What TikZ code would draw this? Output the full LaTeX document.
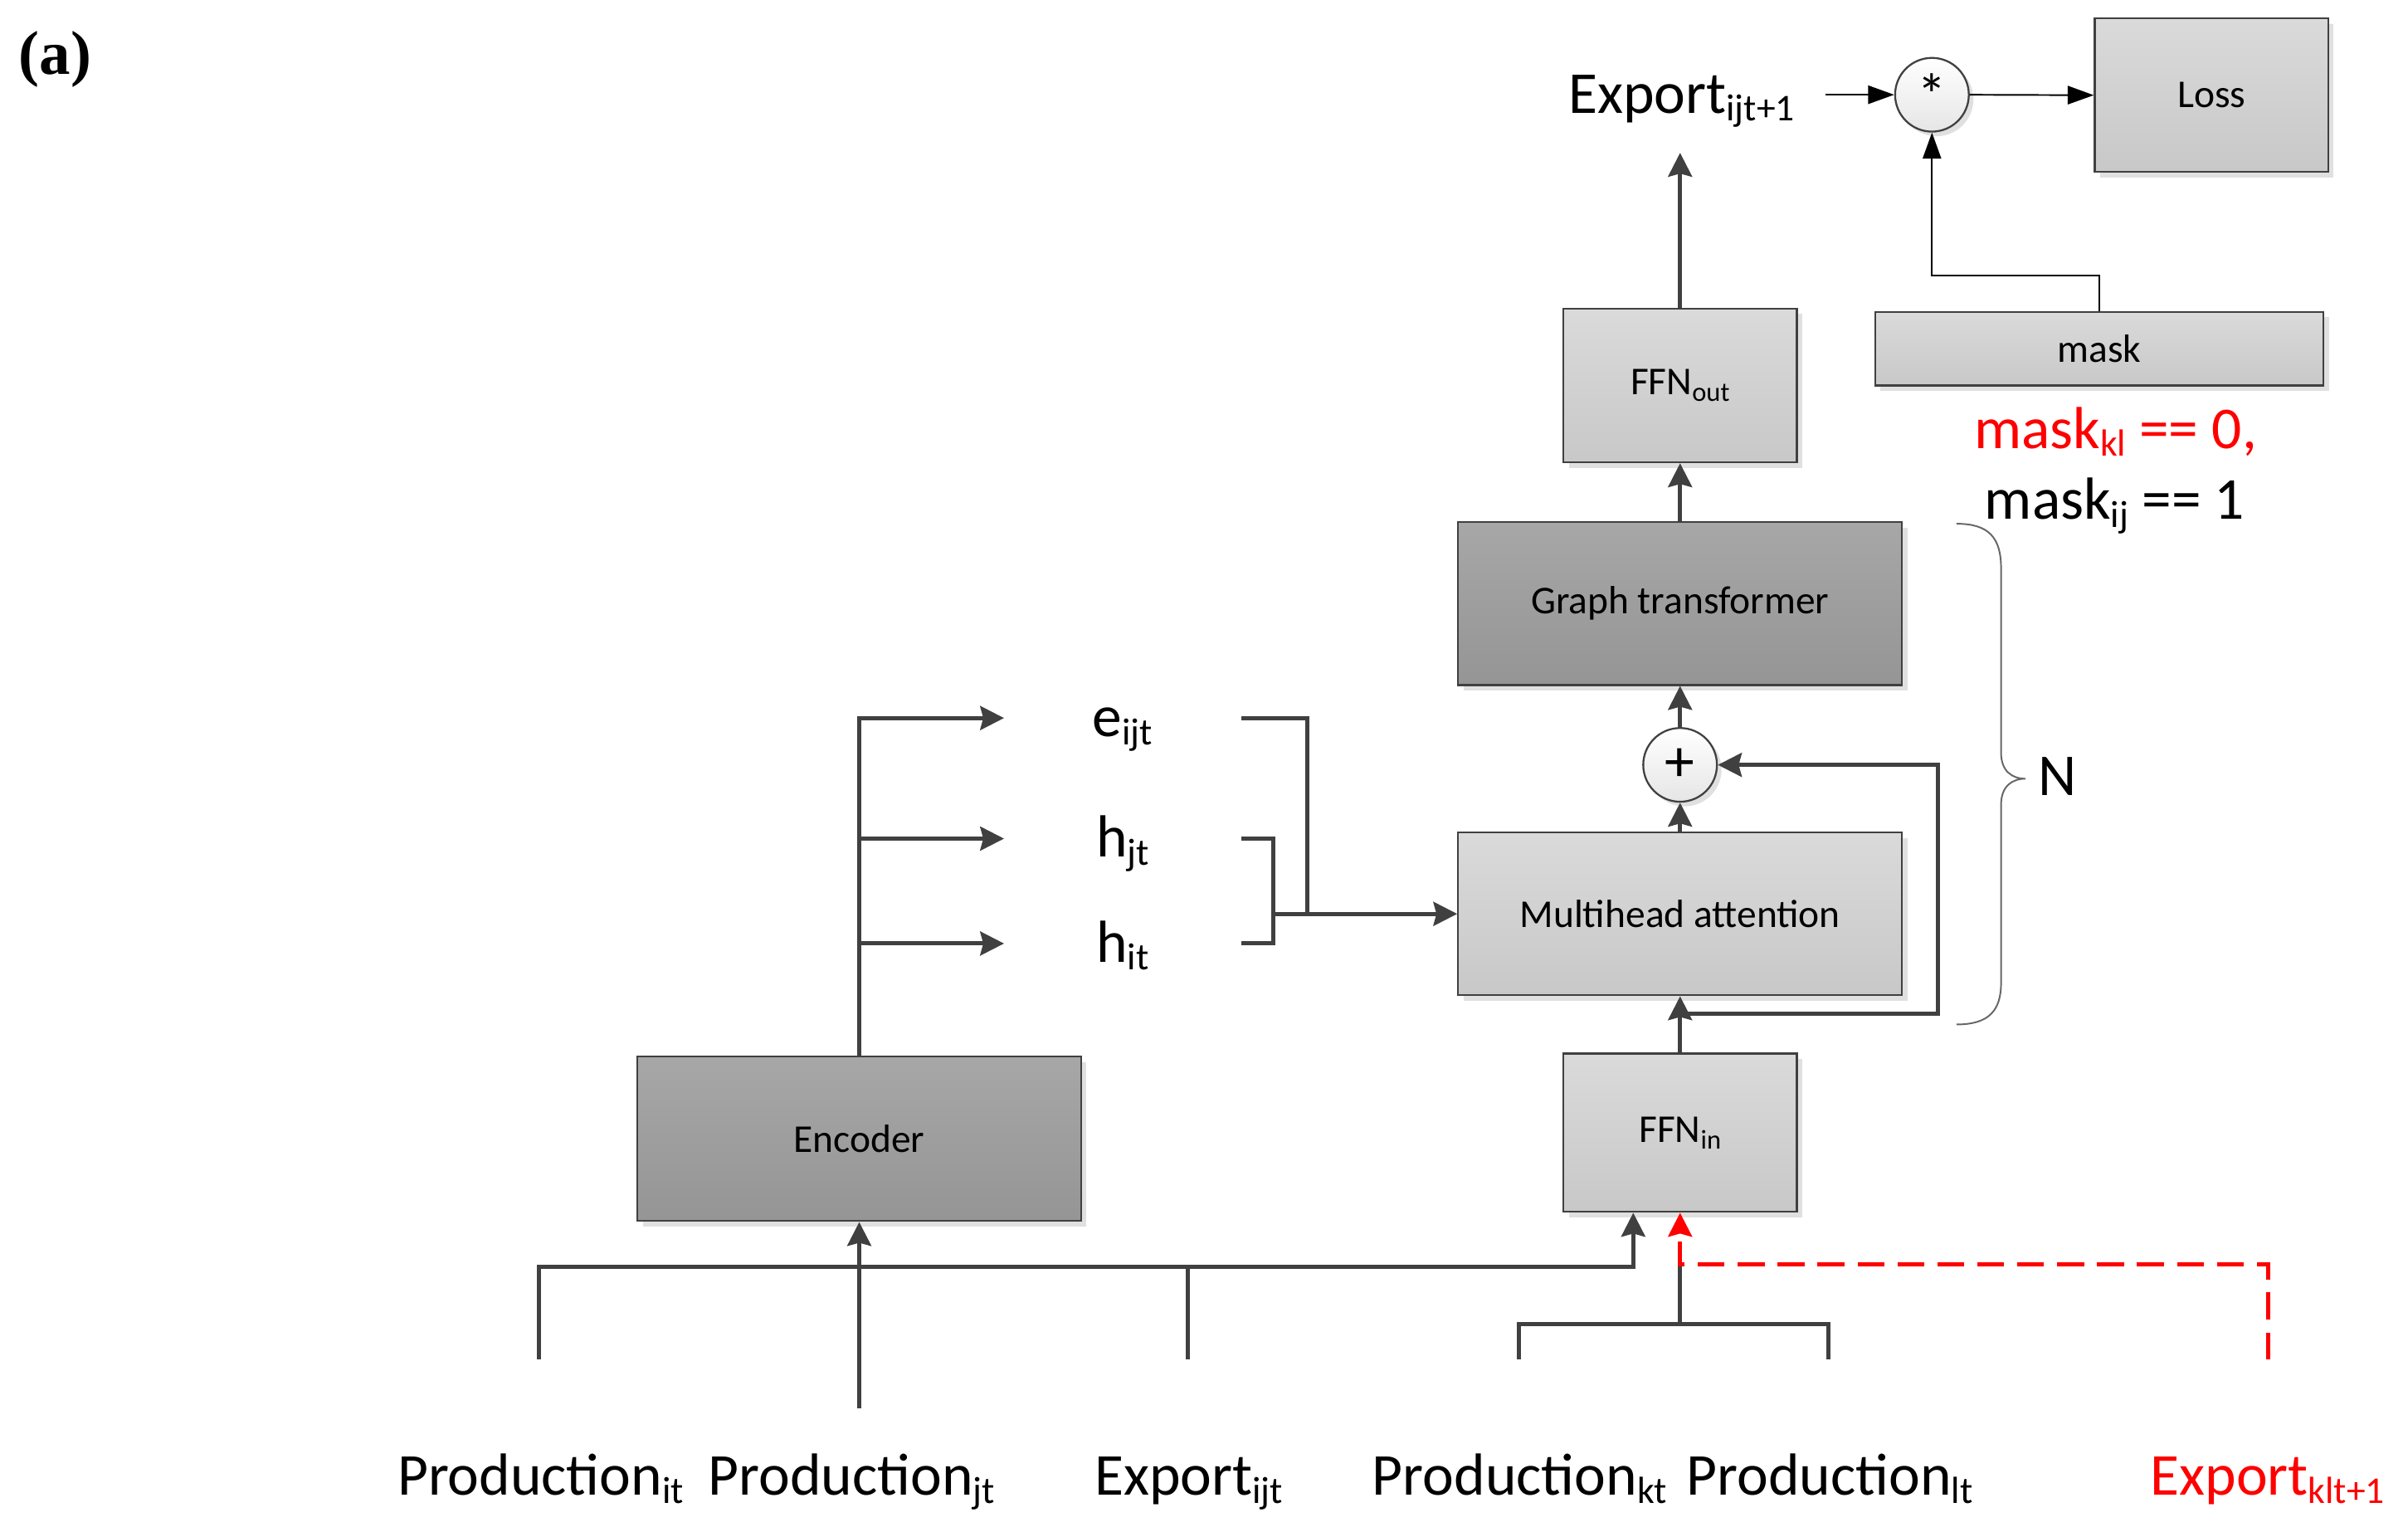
\documentclass[tikz,border=0pt]{standalone}
\usepackage{fontspec}
\setmainfont{Carlito}
\newfontfamily\tagfont{Liberation Serif}
\usetikzlibrary{arrows.meta,shadows}

\definecolor{wirecol}{HTML}{404040}
\definecolor{boxline}{HTML}{404040}
\definecolor{lighttop}{HTML}{DADADA}
\definecolor{lightbot}{HTML}{C8C8C8}
\definecolor{darktop}{HTML}{A7A7A7}
\definecolor{darkbot}{HTML}{959595}

\newcommand{\lbsub}[1]{\raisebox{-1.5pt}{\fontsize{7pt}{8pt}\selectfont #1}}
\newcommand{\bxsub}[1]{\raisebox{-1.2pt}{\fontsize{5pt}{6pt}\selectfont #1}}

\tikzset{
  box/.style={draw=boxline, line width=0.35pt, top color=lighttop, bottom color=lightbot,
    drop shadow={shadow xshift=0.035cm, shadow yshift=-0.035cm, fill=black!12, opacity=1},
    font=\fontsize{7.3pt}{9pt}\selectfont, inner sep=0pt},
  darkbox/.style={box, top color=darktop, bottom color=darkbot},
  op/.style={circle, draw=boxline, line width=0.35pt, top color=white, bottom color=black!10,
    drop shadow={shadow xshift=0.03cm, shadow yshift=-0.03cm, fill=black!12, opacity=1},
    minimum size=0.48cm, inner sep=0pt, font=\fontsize{11pt}{13pt}\selectfont},
  lbl/.style={inner sep=0pt, font=\fontsize{11pt}{13pt}\selectfont},
  port/.style={lbl, minimum width=1.53cm, text height=9pt, text depth=2.2pt},
  wire/.style={draw=wirecol, line width=0.78pt},
  flow/.style={wire, -{Stealth[length=1.55mm, width=1.55mm, inset=0.2mm]}},
  link/.style={draw=black, line width=0.3pt, -{Triangle[length=1.7mm, width=1.2mm]}},
  redflow/.style={draw=red, line width=0.8pt, dash pattern=on 1.75mm off 0.85mm,
    -{Stealth[length=1.55mm, width=1.55mm, inset=0.2mm]}},
}

\begin{document}
\begin{tikzpicture}
  \useasboundingbox (0,0) rectangle (15.68,-9.94);
  \node[anchor=base west, inner sep=0pt, font=\fontsize{11.5pt}{13pt}\selectfont\tagfont\bfseries] (tag) at (0.117,-0.486) {(a)};

  % blocks of the model
  \node[box, minimum width=1.52cm, minimum height=1.00cm] (loss) at (14.40,-0.62) {Loss};
  \node[box, minimum width=2.92cm, minimum height=0.48cm] (mask) at (13.67,-2.27) {mask};
  \node[op] (mult) at (12.58,-0.617) {*};
  \node[box, minimum width=1.52cm, minimum height=1.00cm] (ffnout) at (10.94,-2.51) {FFN\bxsub{out}};
  \node[darkbox, minimum width=2.89cm, minimum height=1.06cm] (gt) at (10.94,-3.93) {Graph transformer};
  \node[op] (plus) at (10.94,-4.98) {+};
  \node[box, minimum width=2.89cm, minimum height=1.06cm] (mha) at (10.94,-5.95) {Multihead attention};
  \node[box, minimum width=1.52cm, minimum height=1.03cm] (ffnin) at (10.94,-7.375) {FFN\bxsub{in}};
  \node[darkbox, minimum width=2.89cm, minimum height=1.07cm] (enc) at (5.595,-7.415) {Encoder};

  % labels
  \node[lbl, anchor=base, inner xsep=5.5pt, inner ysep=4.5pt] (out) at (10.95,-0.735) {Export\lbsub{ijt+1}};
  \node[lbl, anchor=base, text=red] (mk1) at (13.775,-2.918) {mask\lbsub{kl} == 0,};
  \node[lbl, anchor=base] (mk2) at (13.77,-3.38) {mask\lbsub{ij} == 1};
  \node[lbl, anchor=base] (rep) at (13.395,-5.18) {N};
  \node[port] (e) at (7.31,-4.675) {e\lbsub{ijt}};
  \node[port] (hj) at (7.31,-5.46) {h\lbsub{jt}};
  \node[port] (hi) at (7.31,-6.143) {h\lbsub{it}};
  \foreach \nm/\x/\txt in {pit/3.52/Production\lbsub{it}, pjt/5.545/Production\lbsub{jt},
      eij/7.74/Export\lbsub{ijt}, pkt/9.895/Production\lbsub{kt}, plt/11.915/Production\lbsub{lt}}
    \node[lbl, anchor=base] (\nm) at (\x,-9.735) {\txt};
  \node[lbl, anchor=base, text=red] (ekl) at (14.765,-9.735) {Export\lbsub{klt+1}};

  % free ends of the input lines
  \foreach \nm/\x in {pit/3.51, eij/7.735, pkt/9.89, plt/11.905, ekl/14.77}
    \coordinate (\nm-top) at (\x,-8.85);
  \coordinate (pjt-top) at (5.595,-9.17);
  \coordinate (bus) at (10.635,-8.25);
  \coordinate (res) at (10.94,-6.60);

  % output and loss
  \draw[flow] (ffnout.north) -- (ffnout.north |- out.south);
  \draw[link] (out.east |- mult.west) -- (mult.west);
  \draw[link] (mult.east) -- (loss.west);
  \draw[link] (mask.north) -- ++(0,0.23) -| (mult.south);

  % main stack
  \draw[flow] (gt.north) -- (ffnout.south);
  \draw[flow] (plus.north) -- (gt.south);
  \draw[flow] (mha.north) -- (plus.south);
  \draw[flow] (ffnin.north) -- (mha.south);
  \draw[flow] (res) -- ++(1.68,0) |- (plus.east);

  % repeat brace
  \draw[black!60, line width=0.3pt] (12.74,-3.41) .. controls (12.95,-3.41) and (13.03,-3.50) .. (13.03,-3.70)
    -- (13.03,-4.90) .. controls (13.03,-5.02) and (13.10,-5.07) .. (13.19,-5.07)
    .. controls (13.10,-5.07) and (13.03,-5.12) .. (13.03,-5.24)
    -- (13.03,-6.40) .. controls (13.03,-6.58) and (12.95,-6.67) .. (12.74,-6.67);

  % encoder outputs
  \draw[flow] (enc.north) |- (e.west);
  \draw[flow] (enc.north |- hj.west) -- (hj.west);
  \draw[flow] (enc.north |- hi.west) -- (hi.west);
  \draw[wire] (e.east) -- ++(0.43,0) coordinate (eb) -- (eb |- mha.west);
  \draw[wire] (hj.east) -- ++(0.21,0) coordinate (hb) |- (hi.east);
  \draw[flow] (hb |- mha.west) -- (mha.west);

  % inputs
  \draw[flow] (pit-top) |- (bus) -- (bus |- ffnin.south);
  \draw[flow] (pjt-top) -- (enc.south);
  \draw[wire] (eij-top) -- (eij-top |- bus);
  \draw[wire] (pkt-top) -- ++(0,0.23) coordinate (kb) -| (plt-top);
  \draw[wire] (kb -| ffnin.south) -- ++(0,0.39) coordinate (kj);
  \draw[redflow] (ekl-top) |- (kj) -- (ffnin.south);
\end{tikzpicture}
\end{document}
